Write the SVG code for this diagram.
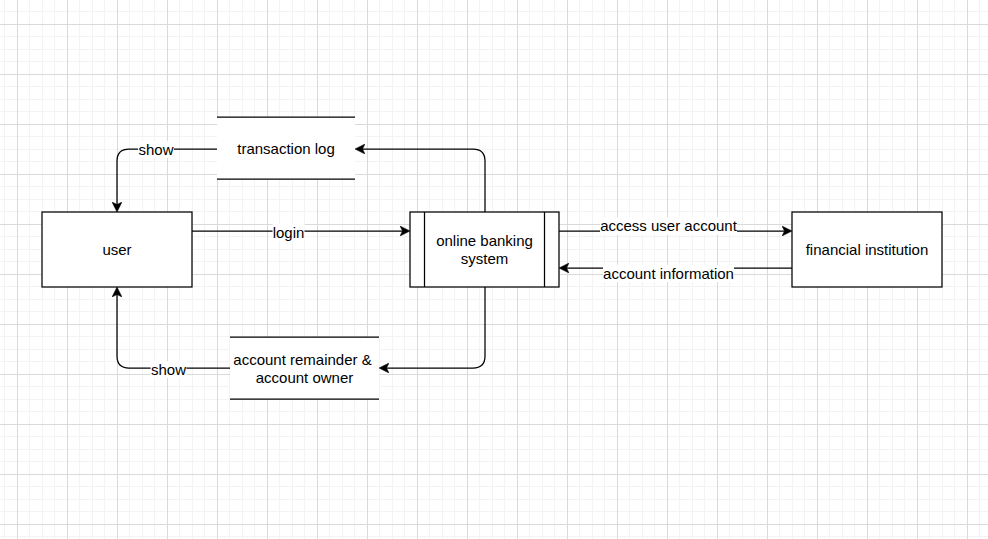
<svg xmlns="http://www.w3.org/2000/svg" width="988" height="539" viewBox="0 0 988 539">
  <style>
    .box { fill: #ffffff; stroke: #000000; stroke-width: 1.25; }
    .store-bg { fill: #ffffff; stroke: none; }
    .store-line { stroke: #000000; stroke-width: 1.25; fill: none; }
    .edge { fill: none; stroke: #000000; stroke-width: 1.25; marker-end: url(#arrow); }
    .lbl-bg { fill: #ffffff; stroke: none; }
    text { font-family: "Liberation Sans", Arial, Helvetica, sans-serif; font-size: 15px; fill: #000000; text-anchor: middle; }
  </style>
  <defs>
    <pattern id="grid" patternUnits="userSpaceOnUse" x="17" y="24" width="50" height="50">
      <rect x="0" y="0" width="50" height="50" fill="#ffffff"/>
      <rect x="12" y="0" width="1" height="50" fill="#f3f3f3"/>
      <rect x="25" y="0" width="1" height="50" fill="#f3f3f3"/>
      <rect x="37" y="0" width="1" height="50" fill="#f3f3f3"/>
      <rect x="0" y="12" width="50" height="1" fill="#f3f3f3"/>
      <rect x="0" y="25" width="50" height="1" fill="#f3f3f3"/>
      <rect x="0" y="37" width="50" height="1" fill="#f3f3f3"/>
      <rect x="0" y="0" width="1" height="50" fill="#dadada"/>
      <rect x="0" y="0" width="50" height="1" fill="#dadada"/>
    </pattern>
    <marker id="arrow" viewBox="0 0 10 10" refX="8" refY="5" markerWidth="10" markerHeight="10" markerUnits="userSpaceOnUse" orient="auto">
      <path d="M0,0 L10,5 L0,10 L2.5,5 Z" fill="#000000" stroke="#000000" stroke-width="0.5"/>
    </marker>
  </defs>

  <rect x="0" y="0" width="988" height="539" fill="url(#grid)"/>

  <g id="connectors">
    <path class="edge" d="M192,231 H408"/>
    <path class="edge" d="M485,212 V161 Q485,149 473,149 H357"/>
    <path class="edge" d="M217,149 H129 Q117,149 117,161 V210"/>
    <path class="edge" d="M485,287 V356 Q485,368 473,368 H381"/>
    <path class="edge" d="M230,368 H129 Q117,368 117,356 V289"/>
    <path class="edge" d="M559,231 H790"/>
    <path class="edge" d="M792,268 H561"/>

    <g id="label-login">
      <rect class="lbl-bg" x="272.5" y="224" width="32" height="17"/>
      <text x="288.5" y="238">login</text>
    </g>
    <g id="label-show-top">
      <rect class="lbl-bg" x="138" y="141" width="36" height="17"/>
      <text x="156" y="155">show</text>
    </g>
    <g id="label-show-bottom">
      <rect class="lbl-bg" x="150.5" y="361" width="36" height="17"/>
      <text x="168.5" y="375">show</text>
    </g>
    <g id="label-access">
      <rect class="lbl-bg" x="600" y="217.5" width="137" height="17"/>
      <text x="668.5" y="231">access user account</text>
    </g>
    <g id="label-info">
      <rect class="lbl-bg" x="603" y="265" width="131" height="17"/>
      <text x="668.5" y="279">account information</text>
    </g>
  </g>

  <g id="user">
    <rect class="box" x="42" y="212" width="150" height="75"/>
    <text x="117" y="254.5">user</text>
  </g>

  <g id="online-banking-system">
    <rect class="box" x="410" y="212" width="149" height="75"/>
    <line class="store-line" x1="424.5" y1="212" x2="424.5" y2="287"/>
    <line class="store-line" x1="544.5" y1="212" x2="544.5" y2="287"/>
    <text x="484.5" y="246">online banking</text>
    <text x="484.5" y="264">system</text>
  </g>

  <g id="financial-institution">
    <rect class="box" x="792" y="212" width="150" height="75"/>
    <text x="867" y="254.5">financial institution</text>
  </g>

  <g id="transaction-log">
    <rect class="store-bg" x="217" y="117" width="138" height="62"/>
    <line class="store-line" x1="217" y1="117" x2="355" y2="117"/>
    <line class="store-line" x1="217" y1="179" x2="355" y2="179"/>
    <text x="286" y="154">transaction log</text>
  </g>

  <g id="account-remainder">
    <rect class="store-bg" x="230" y="337" width="149" height="62"/>
    <line class="store-line" x1="230" y1="337" x2="379" y2="337"/>
    <line class="store-line" x1="230" y1="399" x2="379" y2="399"/>
    <text x="302.5" y="364.5">account remainder &amp;</text>
    <text x="304.5" y="382.5">account owner</text>
  </g>
</svg>
